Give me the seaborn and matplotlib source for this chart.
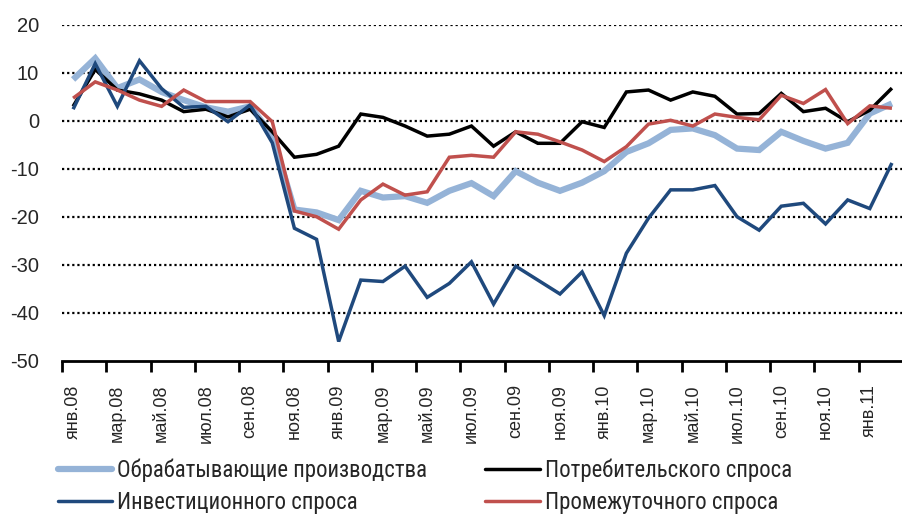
import matplotlib
matplotlib.use("Agg")
import matplotlib.pyplot as plt
from matplotlib.lines import Line2D
import seaborn as sns
import pandas as pd
import numpy as np

# months Jan 2008 .. Feb 2011
month_names = ["янв", "фев", "мар", "апр", "май", "июн", "июл", "авг", "сен", "окт", "ноя", "дек"]
months = [f"{month_names[m]}.{y:02d}" for y in (8, 9, 10, 11) for m in range(12)][:38]

manufacturing = [8.6, 13.0, 6.8, 8.6, 6.0, 4.3, 2.8, 1.9, 3.0, -3.0,
                 -18.5, -19.1, -20.7, -14.6, -16.0, -15.7, -17.1, -14.6, -13.0, -15.7,
                 -10.5, -12.9, -14.6, -12.9, -10.5, -6.5, -4.7, -1.9, -1.6, -3.0,
                 -5.8, -6.1, -2.3, -4.2, -5.8, -4.6, 1.5, 3.6]
consumer = [3.0, 10.7, 6.4, 5.6, 4.3, 1.9, 2.4, 0.8, 2.4, -2.3,
            -7.6, -7.0, -5.3, 1.4, 0.7, -1.1, -3.2, -2.8, -1.1, -5.3,
            -2.3, -4.7, -4.7, -0.2, -1.4, 6.0, 6.4, 4.3, 6.0, 5.1,
            1.4, 1.5, 5.7, 1.9, 2.6, -0.2, 2.2, 6.8]
investment = [2.4, 11.9, 3.0, 12.5, 6.7, 2.8, 3.0, -0.2, 3.3, -4.6,
              -22.4, -24.7, -46.0, -33.2, -33.5, -30.3, -36.8, -33.9, -29.4, -38.2,
              -30.3, -33.2, -36.1, -31.5, -40.6, -27.6, -20.3, -14.4, -14.4, -13.5,
              -20.0, -22.8, -17.8, -17.2, -21.5, -16.5, -18.3, -8.8]
intermediate = [4.7, 8.1, 6.4, 4.3, 3.0, 6.4, 4.0, 4.0, 4.0, -0.2,
                -18.8, -20.0, -22.6, -16.5, -13.2, -15.5, -14.8, -7.6, -7.2, -7.6,
                -2.3, -2.8, -4.4, -6.1, -8.5, -5.4, -0.7, 0.1, -1.1, 1.4,
                0.7, 0.2, 5.3, 3.6, 6.5, -0.6, 3.1, 2.6]

series_names = ["Обрабатывающие производства", "Потребительского спроса",
                "Инвестиционного спроса", "Промежуточного спроса"]
series_values = [manufacturing, consumer, investment, intermediate]
colors = ["#95B3D7", "#000000", "#1F497D", "#C0504D"]
widths = [4.5, 2.5, 2.5, 2.5]

df = pd.DataFrame({
    "idx": np.tile(np.arange(len(months)), len(series_names)),
    "value": np.concatenate(series_values),
    "series": np.repeat(series_names, len(months)),
})

sns.set_style("white")
plt.rcParams["font.family"] = ["Liberation Sans", "DejaVu Sans"]

fig = plt.figure(figsize=(9.03, 5.17), dpi=100)
ax = fig.add_axes([0.0687, 0.3023, 1 - 0.0687, 0.6498])

for name, c, lw in zip(series_names, colors, widths):
    sub = df[df["series"] == name]
    sns.lineplot(data=sub, x="idx", y="value", color=c, linewidth=lw, ax=ax,
                 legend=False, solid_joinstyle="miter", solid_capstyle="butt")

ax.set_xlim(-0.5, 37.0)
ax.set_ylim(-50, 20)
ax.set_yticks(range(-50, 21, 10))
ax.set_yticklabels([str(v) for v in range(-50, 21, 10)], fontsize=14.5)
ax.tick_params(axis="y", length=0, pad=16.5)

for v in range(-40, 21, 10):
    ax.axhline(v, color="black", linewidth=1.6, linestyle=(0, (1.0, 1.3)), zorder=0)

ax.set_xticks(range(0, len(months), 2))
ax.set_xticklabels(months[::2], rotation=90, fontsize=13)
ax.set_xticks(np.arange(-0.5, len(months), 2), minor=True)
ax.tick_params(axis="x", which="major", bottom=False, length=0, pad=17)
ax.tick_params(axis="x", which="minor", bottom=True, length=8, width=2,
               color="black", direction="out")
ax.set_xlabel("")
ax.set_ylabel("")

for s in ["top", "right", "left"]:
    ax.spines[s].set_visible(False)
ax.spines["bottom"].set_color("black")
ax.spines["bottom"].set_linewidth(2)

handles = [Line2D([], [], color=c, linewidth=lw) for c, lw in zip(colors, widths)]
leg_kw = dict(frameon=False, handlelength=2.4, handletextpad=0.22, labelspacing=0.42,
              prop={"family": "Roboto Condensed", "size": 16.4}, borderaxespad=0, borderpad=0)
fig.legend([handles[0], handles[2]], [series_names[0], series_names[2]],
           loc="upper left", bbox_to_anchor=(0.064, 0.114), **leg_kw)
fig.legend([handles[1], handles[3]], [series_names[1], series_names[3]],
           loc="upper left", bbox_to_anchor=(0.537, 0.114), **leg_kw)

fig.savefig("out.png", dpi=100)
